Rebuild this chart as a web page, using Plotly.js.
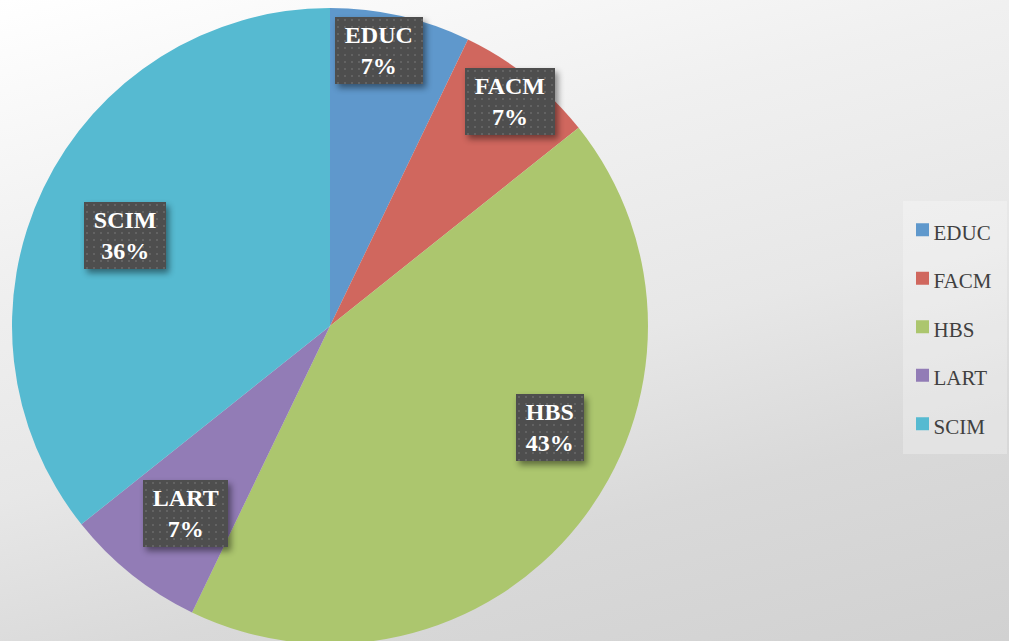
<!DOCTYPE html>
<html>
<head>
<meta charset="utf-8">
<script src="https://cdn.plot.ly/plotly-3.0.1.min.js"></script>
<style>
  html, body { margin: 0; padding: 0; width: 1009px; height: 641px; overflow: hidden; }
  body { background: linear-gradient(165deg, #ffffff 0%, #f0f0f0 30%, #e7e7e7 55%, #d9d9d9 75%, #d1d1d1 100%); }
  #chart { width: 1009px; height: 652px; }
</style>
</head>
<body>
<svg width="0" height="0" style="position:absolute">
  <defs>
    <pattern id="dotpat" x="0" y="0" width="7" height="7" patternUnits="userSpaceOnUse">
      <rect x="0" y="0" width="7" height="7" fill="#4e4e4e"></rect>
      <rect x="2" y="2" width="2" height="2" fill="#636363"></rect>
    </pattern>
  </defs>
</svg>
<div id="chart"></div>
<script>
// ---- data ----
const categories = ["EDUC", "FACM", "HBS", "LART", "SCIM"];
const counts = [1, 1, 6, 1, 5];
const sliceColors = ["#5f98cc", "#d0675e", "#acc66e", "#927cb6", "#56bad1"];

// ---- label placement styling (Excel "best fit" look) ----
const labelRadius = [0.881, 0.906, 0.761, 0.744, 0.704];
const labelAngleShift = [-2.8, 0.1, -13.9, -0.8, -2.0];

const W = 1009, H = 652;
const gd = document.getElementById('chart');

const legendLabels = categories.map(c => '<span style="font-size:21px">' + c + '</span>');

const trace = {
  type: 'pie',
  labels: legendLabels,
  values: counts,
  sort: false,
  direction: 'clockwise',
  rotation: 0,
  textinfo: 'none',
  hoverinfo: 'skip',
  marker: { colors: sliceColors, line: { width: 0 } },
  domain: { x: [12 / W, 648 / W], y: [0, 1] },
  showlegend: true
};

const layout = {
  width: W, height: H,
  margin: { l: 0, r: 0, t: 0, b: 0 },
  paper_bgcolor: 'rgba(0,0,0,0)',
  plot_bgcolor: 'rgba(0,0,0,0)',
  showlegend: true,
  legend: {
    x: 902.5 / W, xanchor: 'left',
    y: 1 - 200.5 / H, yanchor: 'top',
    bgcolor: 'rgba(255,255,255,0.28)',
    borderwidth: 0,
    font: { family: 'Liberation Serif, Times New Roman, serif', size: 35, color: '#404040' },
    traceorder: 'normal'
  },
  hovermode: false
};

function pct(v, total) { return Math.round(100 * v / total) + '%'; }

function buildAnnotations() {
  const cd = gd.calcdata && gd.calcdata[0];
  const total = counts.reduce((a, b) => a + b, 0);
  let cx, cy, r;
  if (cd && cd[0] && cd[0].r) { cx = cd[0].cx; cy = cd[0].cy; r = cd[0].r; }
  else { cx = 330; cy = 326; r = 318; }
  const anns = [];
  let cum = 0;
  categories.forEach((c, i) => {
    let mid;
    if (cd && cd[i] && typeof cd[i].midangle === 'number') mid = cd[i].midangle;
    else mid = 2 * Math.PI * (cum + counts[i] / 2) / total;
    cum += counts[i];
    const a = mid + labelAngleShift[i] * Math.PI / 180;
    const rr = r * labelRadius[i];
    const px = cx + rr * Math.sin(a);
    const py = cy - rr * Math.cos(a);
    anns.push({
      xref: 'paper', yref: 'paper',
      x: px / W, y: 1 - py / H,
      xanchor: 'center', yanchor: 'middle',
      showarrow: false,
      text: '\u2009' + c + '\u2009<br>' + pct(counts[i], total),
      align: 'center',
      font: { family: 'Liberation Serif, Times New Roman, serif', size: 24, color: '#ffffff', weight: 'bold' },
      bgcolor: '#4e4e4e',
      borderpad: 5,
      borderwidth: 0
    });
  });
  return anns;
}

function decorate() {
  document.querySelectorAll('.annotation-text-g rect.bg').forEach(rect => {
    rect.style.fill = 'url(#dotpat)';
    rect.style.filter = 'drop-shadow(3px 4px 3px rgba(0,0,0,0.45))';
  });
  document.querySelectorAll('.annotation-text-g text').forEach(t => {
    t.style.fontWeight = 'bold';
  });
  document.querySelectorAll('.legend .traces').forEach(g => {
    const t = g.querySelector('text.legendtext');
    if (t) { t.setAttribute('x', '31'); t.setAttribute('y', '9.8'); }
    const p = g.querySelector('path.legendpie');
    if (p) p.setAttribute('d', 'M6.5,6.5H-6.5V-6.5H6.5Z');
  });
}

Plotly.newPlot(gd, [trace], layout, { displayModeBar: false, staticPlot: true }).then(() => {
  return Plotly.relayout(gd, { annotations: buildAnnotations() });
}).then(() => {
  decorate();
});
</script>
</body>
</html>
